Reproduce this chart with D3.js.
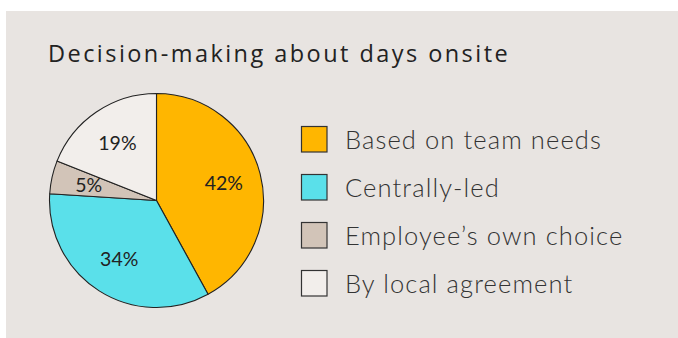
<!DOCTYPE html>
<html>
<head>
<meta charset="utf-8">
<script src="https://cdn.jsdelivr.net/npm/d3@7"></script>
<style>
  html, body { margin: 0; padding: 0; background: #ffffff; }
  svg { display: block; }
  text { font-family: Lato, "Open Sans", sans-serif; }
  text.title { font-family: "Open Sans", Lato, sans-serif; }
</style>
</head>
<body>
<svg id="chart" width="678" height="338"></svg>
<script>
// Share of organisations by who decides the number of days onsite
const categories = ["Based on team needs", "Centrally-led", "Employee\u2019s own choice", "By local agreement"];
const shares = [42, 34, 5, 19];
const colors = ["#ffb600", "#5ae0ea", "#d2c4b8", "#f2eeeb"];
const title = "Decision-making about days onsite";

const svg = d3.select("#chart");

// spread letters so a text node spans the wanted width
function fitWidth(sel, width) {
  sel.each(function () {
    const node = this;
    const n = node.textContent.length;
    const w = node.getComputedTextLength();
    d3.select(node).attr("letter-spacing", ((width - w) / n).toFixed(2));
  });
}

// panel background
svg.append("rect")
  .attr("x", 6).attr("y", 11)
  .attr("width", 672).attr("height", 327)
  .attr("fill", "#e8e4e1");

svg.append("text")
  .attr("class", "title")
  .attr("x", 48).attr("y", 61.5)
  .attr("font-size", 23.5)
  .attr("font-weight", 400)
  .attr("fill", "#222")
  .text(title)
  .call(fitWidth, 462);

const cx = 156.5, cy = 200.5, r = 107;

const pie = d3.pie().sort(null).value(d => d)(shares);
const arc = d3.arc().innerRadius(0).outerRadius(r);
const labelArc = d3.arc().innerRadius(r * 0.65).outerRadius(r * 0.65);

const g = svg.append("g").attr("transform", `translate(${cx},${cy})`);

g.selectAll("path.slice")
  .data(pie)
  .join("path")
  .attr("class", "slice")
  .attr("d", arc)
  .attr("fill", (d, i) => colors[i])
  .attr("stroke", "#222")
  .attr("stroke-width", 1.1)
  .attr("stroke-linejoin", "round");

g.selectAll("text.val")
  .data(pie)
  .join("text")
  .attr("class", "val")
  .attr("transform", d => {
    const [x, y] = labelArc.centroid(d);
    return `translate(${x},${y})`;
  })
  .attr("text-anchor", "middle")
  .attr("dy", "0.36em")
  .attr("font-size", 19.5)
  .attr("fill", "#222")
  .text(d => d.data + "%");

// legend
const legend = svg.append("g").attr("transform", "translate(301,126)");
const rowH = 48;
const items = legend.selectAll("g.item")
  .data(categories)
  .join("g")
  .attr("class", "item")
  .attr("transform", (d, i) => `translate(0,${i * rowH})`);

items.append("rect")
  .attr("x", 0.5).attr("y", 0.5)
  .attr("width", 25.5).attr("height", 25.5)
  .attr("fill", (d, i) => colors[i])
  .attr("stroke", "#333")
  .attr("stroke-width", 1.2);

const labels = items.append("text")
  .attr("x", 44).attr("y", 22.5)
  .attr("font-size", 25.5)
  .attr("font-weight", 300)
  .attr("fill", "#333")
  .text(d => d);

// same tracking for every legend entry, taken from the first one
const first = labels.node();
const spacing = ((257 - first.getComputedTextLength()) / first.textContent.length).toFixed(2);
labels.attr("letter-spacing", spacing);
</script>
</body>
</html>
